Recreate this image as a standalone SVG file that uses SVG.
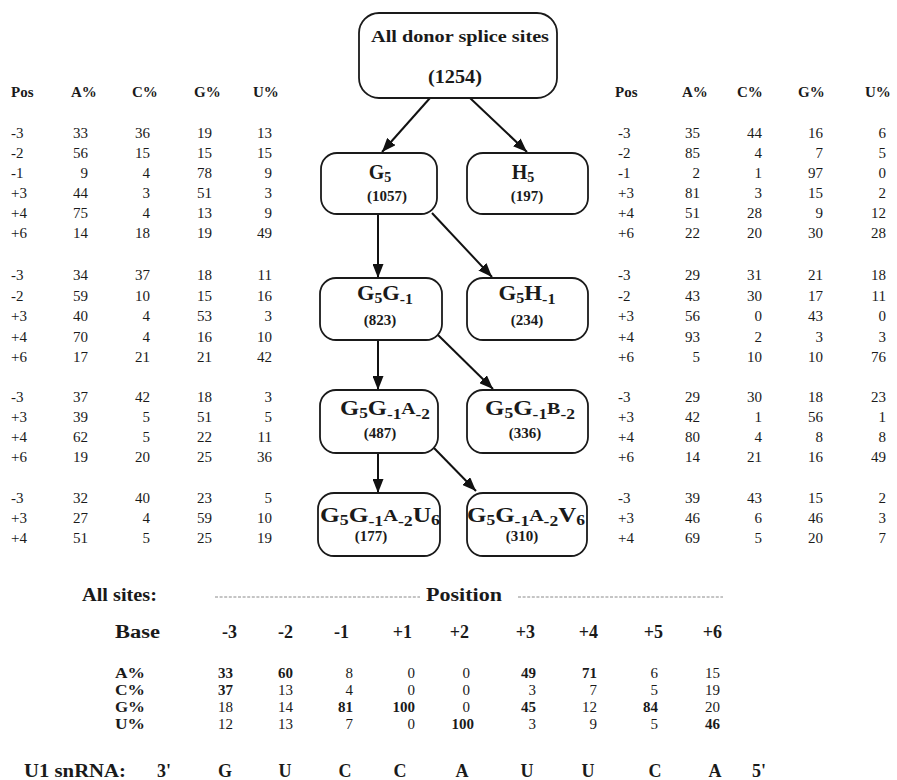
<svg xmlns="http://www.w3.org/2000/svg" width="897" height="780" viewBox="0 0 897 780">
<style>
text{font-family:"Liberation Serif","Times New Roman",serif;fill:#1a1a1a}
.t{font-size:15px}
.h{font-size:15px;font-weight:bold}
.e{text-anchor:end}
.box{fill:#fff;stroke:#1a1a1a;stroke-width:1.8}
.lbl{font-size:20px;font-weight:bold;text-anchor:middle}
.sub{font-size:14px}
.mid{font-size:16px}
.cnt{font-size:15px;font-weight:bold;text-anchor:middle}
.b{font-size:15px}
.bb{font-size:18px;font-weight:bold}
.bn{font-size:15px;font-weight:bold}
.con line{stroke:#111;stroke-width:2}
.dash{stroke:#8a8a8a;stroke-width:1;stroke-dasharray:3 1.6}
</style>
<defs>
<marker id="ah" markerUnits="userSpaceOnUse" markerWidth="15" markerHeight="11" refX="14" refY="5.5" orient="auto">
<path d="M0,0 L14,5.5 L0,11 z" fill="#111"/>
</marker>
</defs>
<rect width="897" height="780" fill="#fff"/>

<!-- Left tables -->
<g id="left-table">
<text class="h" x="11" y="97">Pos</text><text class="h" x="71" y="97">A%</text><text class="h" x="132" y="97">C%</text><text class="h" x="194" y="97">G%</text><text class="h" x="253" y="97">U%</text>
<g class="t">
<text x="11" y="138">-3</text><text class="e" x="88" y="138">33</text><text class="e" x="150" y="138">36</text><text class="e" x="212" y="138">19</text><text class="e" x="272" y="138">13</text>
<text x="11" y="158">-2</text><text class="e" x="88" y="158">56</text><text class="e" x="150" y="158">15</text><text class="e" x="212" y="158">15</text><text class="e" x="272" y="158">15</text>
<text x="11" y="178">-1</text><text class="e" x="88" y="178">9</text><text class="e" x="150" y="178">4</text><text class="e" x="212" y="178">78</text><text class="e" x="272" y="178">9</text>
<text x="11" y="198">+3</text><text class="e" x="88" y="198">44</text><text class="e" x="150" y="198">3</text><text class="e" x="212" y="198">51</text><text class="e" x="272" y="198">3</text>
<text x="11" y="218">+4</text><text class="e" x="88" y="218">75</text><text class="e" x="150" y="218">4</text><text class="e" x="212" y="218">13</text><text class="e" x="272" y="218">9</text>
<text x="11" y="238">+6</text><text class="e" x="88" y="238">14</text><text class="e" x="150" y="238">18</text><text class="e" x="212" y="238">19</text><text class="e" x="272" y="238">49</text>

<text x="11" y="280">-3</text><text class="e" x="88" y="280">34</text><text class="e" x="150" y="280">37</text><text class="e" x="212" y="280">18</text><text class="e" x="272" y="280">11</text>
<text x="11" y="300.5">-2</text><text class="e" x="88" y="300.5">59</text><text class="e" x="150" y="300.5">10</text><text class="e" x="212" y="300.5">15</text><text class="e" x="272" y="300.5">16</text>
<text x="11" y="321">+3</text><text class="e" x="88" y="321">40</text><text class="e" x="150" y="321">4</text><text class="e" x="212" y="321">53</text><text class="e" x="272" y="321">3</text>
<text x="11" y="341.5">+4</text><text class="e" x="88" y="341.5">70</text><text class="e" x="150" y="341.5">4</text><text class="e" x="212" y="341.5">16</text><text class="e" x="272" y="341.5">10</text>
<text x="11" y="362">+6</text><text class="e" x="88" y="362">17</text><text class="e" x="150" y="362">21</text><text class="e" x="212" y="362">21</text><text class="e" x="272" y="362">42</text>

<text x="11" y="402">-3</text><text class="e" x="88" y="402">37</text><text class="e" x="150" y="402">42</text><text class="e" x="212" y="402">18</text><text class="e" x="272" y="402">3</text>
<text x="11" y="422">+3</text><text class="e" x="88" y="422">39</text><text class="e" x="150" y="422">5</text><text class="e" x="212" y="422">51</text><text class="e" x="272" y="422">5</text>
<text x="11" y="442">+4</text><text class="e" x="88" y="442">62</text><text class="e" x="150" y="442">5</text><text class="e" x="212" y="442">22</text><text class="e" x="272" y="442">11</text>
<text x="11" y="462">+6</text><text class="e" x="88" y="462">19</text><text class="e" x="150" y="462">20</text><text class="e" x="212" y="462">25</text><text class="e" x="272" y="462">36</text>

<text x="11" y="503">-3</text><text class="e" x="88" y="503">32</text><text class="e" x="150" y="503">40</text><text class="e" x="212" y="503">23</text><text class="e" x="272" y="503">5</text>
<text x="11" y="523">+3</text><text class="e" x="88" y="523">27</text><text class="e" x="150" y="523">4</text><text class="e" x="212" y="523">59</text><text class="e" x="272" y="523">10</text>
<text x="11" y="543">+4</text><text class="e" x="88" y="543">51</text><text class="e" x="150" y="543">5</text><text class="e" x="212" y="543">25</text><text class="e" x="272" y="543">19</text>
</g>
</g>

<!-- Right tables -->
<g id="right-table">
<text class="h" x="615" y="97">Pos</text><text class="h" x="682" y="97">A%</text><text class="h" x="737" y="97">C%</text><text class="h" x="798" y="97">G%</text><text class="h" x="865" y="97">U%</text>
<g class="t">
<text x="618" y="138">-3</text><text class="e" x="700" y="138">35</text><text class="e" x="762" y="138">44</text><text class="e" x="823" y="138">16</text><text class="e" x="886" y="138">6</text>
<text x="618" y="158">-2</text><text class="e" x="700" y="158">85</text><text class="e" x="762" y="158">4</text><text class="e" x="823" y="158">7</text><text class="e" x="886" y="158">5</text>
<text x="618" y="178">-1</text><text class="e" x="700" y="178">2</text><text class="e" x="762" y="178">1</text><text class="e" x="823" y="178">97</text><text class="e" x="886" y="178">0</text>
<text x="618" y="198">+3</text><text class="e" x="700" y="198">81</text><text class="e" x="762" y="198">3</text><text class="e" x="823" y="198">15</text><text class="e" x="886" y="198">2</text>
<text x="618" y="218">+4</text><text class="e" x="700" y="218">51</text><text class="e" x="762" y="218">28</text><text class="e" x="823" y="218">9</text><text class="e" x="886" y="218">12</text>
<text x="618" y="238">+6</text><text class="e" x="700" y="238">22</text><text class="e" x="762" y="238">20</text><text class="e" x="823" y="238">30</text><text class="e" x="886" y="238">28</text>

<text x="618" y="280">-3</text><text class="e" x="700" y="280">29</text><text class="e" x="762" y="280">31</text><text class="e" x="823" y="280">21</text><text class="e" x="886" y="280">18</text>
<text x="618" y="300.5">-2</text><text class="e" x="700" y="300.5">43</text><text class="e" x="762" y="300.5">30</text><text class="e" x="823" y="300.5">17</text><text class="e" x="886" y="300.5">11</text>
<text x="618" y="321">+3</text><text class="e" x="700" y="321">56</text><text class="e" x="762" y="321">0</text><text class="e" x="823" y="321">43</text><text class="e" x="886" y="321">0</text>
<text x="618" y="341.5">+4</text><text class="e" x="700" y="341.5">93</text><text class="e" x="762" y="341.5">2</text><text class="e" x="823" y="341.5">3</text><text class="e" x="886" y="341.5">3</text>
<text x="618" y="362">+6</text><text class="e" x="700" y="362">5</text><text class="e" x="762" y="362">10</text><text class="e" x="823" y="362">10</text><text class="e" x="886" y="362">76</text>

<text x="618" y="402">-3</text><text class="e" x="700" y="402">29</text><text class="e" x="762" y="402">30</text><text class="e" x="823" y="402">18</text><text class="e" x="886" y="402">23</text>
<text x="618" y="422">+3</text><text class="e" x="700" y="422">42</text><text class="e" x="762" y="422">1</text><text class="e" x="823" y="422">56</text><text class="e" x="886" y="422">1</text>
<text x="618" y="442">+4</text><text class="e" x="700" y="442">80</text><text class="e" x="762" y="442">4</text><text class="e" x="823" y="442">8</text><text class="e" x="886" y="442">8</text>
<text x="618" y="462">+6</text><text class="e" x="700" y="462">14</text><text class="e" x="762" y="462">21</text><text class="e" x="823" y="462">16</text><text class="e" x="886" y="462">49</text>

<text x="618" y="503">-3</text><text class="e" x="700" y="503">39</text><text class="e" x="762" y="503">43</text><text class="e" x="823" y="503">15</text><text class="e" x="886" y="503">2</text>
<text x="618" y="523">+3</text><text class="e" x="700" y="523">46</text><text class="e" x="762" y="523">6</text><text class="e" x="823" y="523">46</text><text class="e" x="886" y="523">3</text>
<text x="618" y="543">+4</text><text class="e" x="700" y="543">69</text><text class="e" x="762" y="543">5</text><text class="e" x="823" y="543">20</text><text class="e" x="886" y="543">7</text>
</g>
</g>

<!-- Connectors -->
<g id="connectors" class="con">
<line x1="430" y1="98" x2="382" y2="152" marker-end="url(#ah)"/>
<line x1="470" y1="98" x2="527" y2="152" marker-end="url(#ah)"/>
<line x1="378" y1="215" x2="378" y2="278" marker-end="url(#ah)"/>
<line x1="432" y1="213" x2="492" y2="277" marker-end="url(#ah)"/>
<line x1="378" y1="340" x2="378" y2="390" marker-end="url(#ah)"/>
<line x1="438" y1="335" x2="493" y2="389" marker-end="url(#ah)"/>
<line x1="378" y1="453" x2="378" y2="493" marker-end="url(#ah)"/>
<line x1="434" y1="448" x2="476" y2="491" marker-end="url(#ah)"/>
</g>

<!-- Nodes -->
<g id="node-all">
<rect class="box" x="359" y="13" width="198" height="85" rx="20"/>
<text x="460" y="42" font-size="17" font-weight="bold" text-anchor="middle" textLength="178" lengthAdjust="spacingAndGlyphs">All donor splice sites</text>
<text x="455" y="83" font-size="18" font-weight="bold" text-anchor="middle" textLength="54" lengthAdjust="spacingAndGlyphs">(1254)</text>
</g>
<g id="node-g5">
<rect class="box" x="321" y="153" width="116" height="61" rx="16"/>
<text class="lbl" x="380" y="179">G<tspan class="sub" dy="3">5</tspan></text>
<text class="cnt" x="387" y="201" font-size="14">(1057)</text>
</g>
<g id="node-h5">
<rect class="box" x="467" y="153" width="121" height="61" rx="16"/>
<text class="lbl" x="523" y="179">H<tspan class="sub" dy="3">5</tspan></text>
<text class="cnt" x="527" y="201" font-size="14">(197)</text>
</g>
<g id="node-g5g1">
<rect class="box" x="320" y="278" width="122" height="62" rx="16"/>
<text class="lbl" x="385" y="300" textLength="56" lengthAdjust="spacingAndGlyphs">G<tspan class="sub" dy="3">5</tspan><tspan dy="-3">G</tspan><tspan class="sub" dy="4">-1</tspan></text>
<text class="cnt" x="380" y="325">(823)</text>
</g>
<g id="node-g5h1">
<rect class="box" x="467" y="278" width="121" height="62" rx="16"/>
<text class="lbl" x="527" y="300" textLength="57" lengthAdjust="spacingAndGlyphs">G<tspan class="sub" dy="3">5</tspan><tspan dy="-3">H</tspan><tspan class="sub" dy="4">-1</tspan></text>
<text class="cnt" x="527" y="325">(234)</text>
</g>
<g id="node-g5g1a2">
<rect class="box" x="320" y="390" width="118" height="63" rx="16"/>
<text class="lbl" x="385" y="415" textLength="90" lengthAdjust="spacingAndGlyphs">G<tspan class="sub" dy="3">5</tspan><tspan dy="-3">G</tspan><tspan class="sub" dy="4">-1</tspan><tspan class="mid" dy="-5">A</tspan><tspan class="sub" dy="5">-2</tspan></text>
<text class="cnt" x="380" y="438">(487)</text>
</g>
<g id="node-g5g1b2">
<rect class="box" x="467" y="390" width="121" height="63" rx="16"/>
<text class="lbl" x="530" y="415" textLength="90" lengthAdjust="spacingAndGlyphs">G<tspan class="sub" dy="3">5</tspan><tspan dy="-3">G</tspan><tspan class="sub" dy="4">-1</tspan><tspan class="mid" dy="-5">B</tspan><tspan class="sub" dy="5">-2</tspan></text>
<text class="cnt" x="525" y="438">(336)</text>
</g>
<g id="node-u6">
<rect class="box" x="318" y="493" width="122" height="63" rx="16"/>
<text class="lbl" x="380" y="522" textLength="120" lengthAdjust="spacingAndGlyphs">G<tspan class="sub" dy="3">5</tspan><tspan dy="-3">G</tspan><tspan class="sub" dy="4">-1</tspan><tspan class="mid" dy="-5">A</tspan><tspan class="sub" dy="5">-2</tspan><tspan dy="-4">U</tspan><tspan class="sub" dy="3">6</tspan></text>
<text class="cnt" x="371" y="541">(177)</text>
</g>
<g id="node-v6">
<rect class="box" x="467" y="493" width="120" height="63" rx="16"/>
<text class="lbl" x="526" y="522" textLength="118" lengthAdjust="spacingAndGlyphs">G<tspan class="sub" dy="3">5</tspan><tspan dy="-3">G</tspan><tspan class="sub" dy="4">-1</tspan><tspan class="mid" dy="-5">A</tspan><tspan class="sub" dy="5">-2</tspan><tspan dy="-4">V</tspan><tspan class="sub" dy="3">6</tspan></text>
<text class="cnt" x="522" y="541">(310)</text>
</g>

<!-- Bottom table -->
<g id="summary">
<text class="bb" x="82" y="601" textLength="75" lengthAdjust="spacingAndGlyphs">All sites:</text>
<line class="dash" x1="215" y1="597" x2="420" y2="597"/>
<text class="bb" x="426" y="601" textLength="76" lengthAdjust="spacingAndGlyphs">Position</text>
<line class="dash" x1="518" y1="597" x2="723" y2="597"/>
<g class="bb">
<text x="115" y="638" textLength="45" lengthAdjust="spacingAndGlyphs">Base</text>
<text class="e" x="237" y="638">-3</text><text class="e" x="293" y="638">-2</text><text class="e" x="349" y="638">-1</text><text class="e" x="412" y="638">+1</text><text class="e" x="469" y="638">+2</text><text class="e" x="535" y="638">+3</text><text class="e" x="598" y="638">+4</text><text class="e" x="663" y="638">+5</text><text class="e" x="722" y="638">+6</text>
</g>
<g class="bn">
<text x="115" y="678" textLength="30" lengthAdjust="spacingAndGlyphs">A%</text><text x="115" y="695" textLength="30" lengthAdjust="spacingAndGlyphs">C%</text><text x="115" y="712" textLength="30" lengthAdjust="spacingAndGlyphs">G%</text><text x="115" y="729" textLength="30" lengthAdjust="spacingAndGlyphs">U%</text>
</g>
<g class="b">
<text class="e bn" x="233" y="678">33</text><text class="e bn" x="293" y="678">60</text><text class="e" x="353" y="678">8</text><text class="e" x="415" y="678">0</text><text class="e" x="470" y="678">0</text><text class="e bn" x="536" y="678">49</text><text class="e bn" x="597" y="678">71</text><text class="e" x="658" y="678">6</text><text class="e" x="720" y="678">15</text>
<text class="e bn" x="233" y="695">37</text><text class="e" x="293" y="695">13</text><text class="e" x="353" y="695">4</text><text class="e" x="415" y="695">0</text><text class="e" x="470" y="695">0</text><text class="e" x="536" y="695">3</text><text class="e" x="597" y="695">7</text><text class="e" x="658" y="695">5</text><text class="e" x="720" y="695">19</text>
<text class="e" x="233" y="712">18</text><text class="e" x="293" y="712">14</text><text class="e bn" x="353" y="712">81</text><text class="e bn" x="415" y="712">100</text><text class="e" x="470" y="712">0</text><text class="e bn" x="536" y="712">45</text><text class="e" x="597" y="712">12</text><text class="e bn" x="658" y="712">84</text><text class="e" x="720" y="712">20</text>
<text class="e" x="233" y="729">12</text><text class="e" x="293" y="729">13</text><text class="e" x="353" y="729">7</text><text class="e" x="415" y="729">0</text><text class="e bn" x="474" y="729">100</text><text class="e" x="536" y="729">3</text><text class="e" x="597" y="729">9</text><text class="e" x="658" y="729">5</text><text class="e bn" x="720" y="729">46</text>
</g>
<g class="bb" text-anchor="middle">
<text x="75" y="777" textLength="102" lengthAdjust="spacingAndGlyphs">U1 snRNA:</text>
<text x="164" y="777">3'</text>
<text x="225" y="777">G</text><text x="285" y="777">U</text><text x="345" y="777">C</text><text x="400" y="777">C</text><text x="462" y="777">A</text><text x="527" y="777">U</text><text x="588" y="777">U</text><text x="655" y="777">C</text><text x="715" y="777">A</text>
<text x="759" y="777">5'</text>
</g>
</g>
</svg>
